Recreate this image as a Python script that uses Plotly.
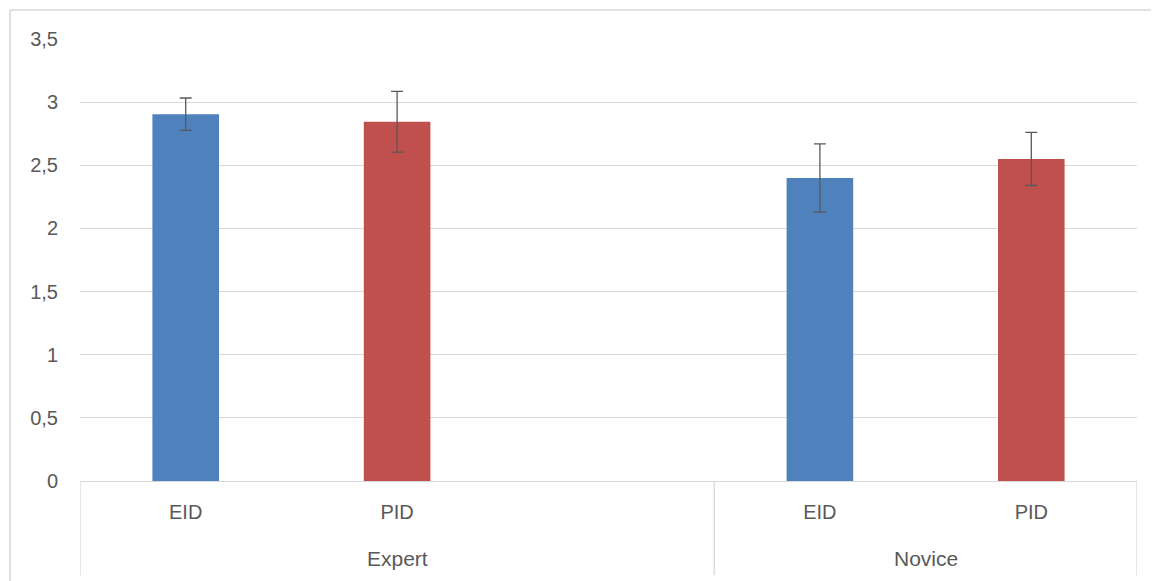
import plotly.graph_objects as go

# ---- data ----
groups = ["Expert", "Novice"]
conditions = ["EID", "PID"]
eid_means = [2.905, 2.40]
eid_errs = [0.128, 0.27]
pid_means = [2.845, 2.55]
pid_errs = [0.24, 0.21]
y_ticks = [0, 0.5, 1, 1.5, 2, 2.5, 3, 3.5]
y_tick_labels = ["0", "0,5", "1", "1,5", "2", "2,5", "3", "3,5"]

# category slots: Expert has an extra empty slot as in the original
slots = ["Expert|EID", "Expert|PID", "Expert|", "Novice|EID", "Novice|PID"]
slot_labels = [s.split("|")[1] for s in slots]

BLUE = "#4F81BD"
RED = "#C0504D"
TEXT = "#595959"
GRID = "#D9D9D9"
FONT = "Liberation Sans"

fig = go.Figure()
fig.add_trace(go.Bar(
    x=[f"{g}|{conditions[0]}" for g in groups], y=eid_means,
    error_y=dict(type="data", array=eid_errs, color=TEXT, thickness=1.3, width=6),
    marker=dict(color=BLUE, line=dict(width=0)), width=0.315, name="EID",
))
fig.add_trace(go.Bar(
    x=[f"{g}|{conditions[1]}" for g in groups], y=pid_means,
    error_y=dict(type="data", array=pid_errs, color=TEXT, thickness=1.3, width=6),
    marker=dict(color=RED, line=dict(width=0)), width=0.315, name="PID",
))

# group labels & separators
group_centers = {"Expert": 1.0, "Novice": 3.5}
annotations = [
    dict(x=group_centers[g], y=-0.175, xref="x", yref="paper", text=g,
         showarrow=False, font=dict(family=FONT, size=21, color=TEXT),
         xanchor="center", yanchor="middle")
    for g in groups
]
shapes = [
    dict(type="line", xref="x", yref="paper", x0=xv, x1=xv, y0=0, y1=-0.2135,
         line=dict(color=GRID, width=1.3))
    for xv in [-0.5, 2.5, 4.5]
]
# outer chart border (top & left visible)
shapes += [
    dict(type="line", xref="paper", yref="paper", x0=-0.0662, x1=1.1, y0=1.0657, y1=1.0657,
         line=dict(color=GRID, width=1.6)),
    dict(type="line", xref="paper", yref="paper", x0=-0.0662, x1=-0.0662, y0=1.0657, y1=-0.3,
         line=dict(color=GRID, width=1.6)),
]

fig.update_layout(
    width=1151, height=573,
    margin=dict(l=72, r=21.5, t=31, b=100.3),
    paper_bgcolor="white", plot_bgcolor="white",
    showlegend=False,
    barmode="overlay",
    font=dict(family=FONT, size=20, color=TEXT),
    annotations=annotations, shapes=shapes,
    xaxis=dict(
        type="category", categoryorder="array", categoryarray=slots,
        tickvals=slots, ticktext=slot_labels, range=[-0.5, 4.5],
        showline=True, linecolor=GRID, linewidth=1.3,
        showgrid=False, ticks="", ticklabelstandoff=13,
        tickfont=dict(family=FONT, size=20, color=TEXT), fixedrange=True,
    ),
    yaxis=dict(
        range=[0, 3.5], tickvals=y_ticks, ticktext=y_tick_labels,
        showgrid=True, gridcolor=GRID, gridwidth=1.3,
        zeroline=False, showline=False, ticks="", ticklabelstandoff=21,
        tickfont=dict(family=FONT, size=20, color=TEXT), fixedrange=True,
    ),
)

fig.write_html("out.html")
